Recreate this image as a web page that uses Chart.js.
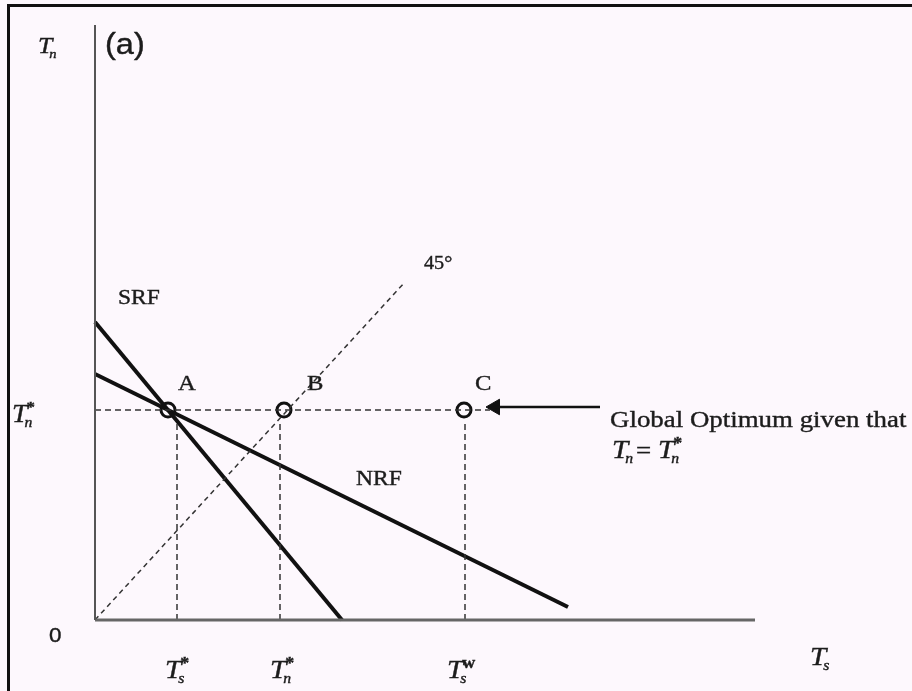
<!DOCTYPE html>
<html>
<head>
<meta charset="utf-8">
<script src="https://cdn.jsdelivr.net/npm/chart.js@4.4.1/dist/chart.umd.min.js"></script>
<style>
  html, body { margin: 0; padding: 0; background: #fdf8fd; }
  #wrap { position: relative; width: 912px; height: 691px; overflow: hidden; }
  #frame { position: absolute; left: 7px; top: 4px; right: -10px; bottom: -10px;
           border-top: 3px solid #111; border-left: 3px solid #111; pointer-events: none; }
</style>
</head>
<body>
<div id="wrap">
  <canvas id="chartContainer" width="912" height="691"></canvas>
  <div id="frame"></div>
</div>
<script>
// unités du schéma : origine au coin des axes
var axeY = [{x: 0, y: 0}, {x: 0, y: 595}];
var axeX = [{x: 0, y: 0}, {x: 660, y: 0}];
var srf = [{x: 0, y: 298}, {x: 247, y: 0}];
var nrf = [{x: 0, y: 246}, {x: 473, y: 13}];
var ligne45 = [{x: 0, y: 0}, {x: 310, y: 338}];
var niveauTn = [{x: 0, y: 210}, {x: 395, y: 210}];
var verticales = [82, 185, 370];
var pointsX = [73, 189, 369];
var pointsNoms = ['A', 'B', 'C'];
var fleche = [{x: 400, y: 213}, {x: 505, y: 213}];

var datasets = [];
function trait(data, width, color, dash) {
    datasets.push({
        data: data, showLine: true, borderColor: color, borderWidth: width,
        borderDash: dash || [], pointRadius: 0, fill: false, clip: false, tension: 0
    });
}
trait(axeY, 2, '#555');
trait(axeX, 3, '#666');
trait(ligne45, 1.5, '#333', [5, 4]);
trait(niveauTn, 1.5, '#333', [6, 4]);
verticales.forEach(function(v) {
    trait([{x: v, y: 0}, {x: v, y: 200}], 1.5, '#333', [6, 4]);
});
trait(srf, 4, '#111');
trait(nrf, 4, '#111');
trait(fleche, 2.5, '#111');
// pointe de la flèche
datasets.push({
    data: [fleche[0]], pointStyle: 'triangle', rotation: -90, pointRadius: 9,
    backgroundColor: '#111', borderColor: '#111', borderWidth: 1, clip: false
});
// cercles A, B, C
datasets.push({
    data: pointsX.map(function(x) { return {x: x, y: 210}; }),
    pointRadius: 7, pointBorderWidth: 3, borderColor: '#111',
    backgroundColor: '#fdf8fd', clip: false
});

// textes du schéma (l'image d'origine est un peu étirée en largeur)
var serif = '"Liberation Serif", "DejaVu Serif", serif';
var sans = '"Liberation Sans", "DejaVu Sans", sans-serif';
var etire = 1.12;

function texte(ctx, str, px, py, font) {
    ctx.save();
    ctx.font = font;
    ctx.translate(px, py);
    ctx.scale(etire, 1);
    ctx.fillText(str, 0, 0);
    ctx.lineWidth = 0.4;
    ctx.strokeText(str, 0, 0);
    var w = ctx.measureText(str).width * etire;
    ctx.restore();
    return w;
}

function drawT(ctx, px, py, sub, sup, size) {
    size = size || 25;
    var w = texte(ctx, 'T', px, py, 'italic ' + size + 'px ' + serif);
    texte(ctx, sub, px + w - 3, py + 5, 'italic ' + Math.round(size * 0.55) + 'px ' + serif);
    if (sup) {
        texte(ctx, sup, px + w - 1, py - 10, 'bold ' + Math.round(size * 0.6) + 'px ' + serif);
    }
}

var textes = {
    id: 'textes',
    afterDatasetsDraw: function(chart) {
        var ctx = chart.ctx;
        var sx = chart.scales.x, sy = chart.scales.y;
        function P(x, y) { return [sx.getPixelForValue(x), sy.getPixelForValue(y)]; }
        ctx.save();
        ctx.fillStyle = '#1c1c1c';
        ctx.strokeStyle = '#1c1c1c';
        ctx.textAlign = 'left';
        ctx.textBaseline = 'alphabetic';
        var p;
        p = P(-57, 567); drawT(ctx, p[0], p[1], 'n', null, 23);
        p = P(10, 566); texte(ctx, '(a)', p[0], p[1], '29px ' + sans);
        p = P(-83, 198); drawT(ctx, p[0], p[1], 'n', '*', 25);
        p = P(-46, -22); texte(ctx, '0', p[0], p[1], '20px ' + sans);
        p = P(23, 316); texte(ctx, 'SRF', p[0], p[1], '21px ' + serif);
        p = P(261, 135); texte(ctx, 'NRF', p[0], p[1], '21px ' + serif);
        var ax = [83, 212, 380];
        pointsNoms.forEach(function(n, i) {
            p = P(ax[i], 230); texte(ctx, n, p[0], p[1], '22px ' + serif);
        });
        p = P(329, 351); texte(ctx, '45°', p[0], p[1], '18px ' + serif);
        p = P(515, 193); texte(ctx, 'Global Optimum given that', p[0], p[1], '24px ' + serif);
        p = P(517, 162); drawT(ctx, p[0], p[1], 'n', null, 26);
        p = P(541, 162); texte(ctx, '=', p[0], p[1], '24px ' + serif);
        p = P(563, 162); drawT(ctx, p[0], p[1], 'n', '*', 26);
        p = P(70, -58); drawT(ctx, p[0], p[1], 's', '*', 26);
        p = P(175, -58); drawT(ctx, p[0], p[1], 'n', '*', 26);
        p = P(352, -58); drawT(ctx, p[0], p[1], 's', 'w', 26);
        p = P(715, -45); drawT(ctx, p[0], p[1], 's', null, 26);
        ctx.restore();
    }
};

var ctx = document.getElementById('chartContainer').getContext('2d');
ctx.chart = new Chart(ctx, {
    type: 'scatter',
    data: { datasets: datasets },
    options: {
        responsive: false,
        animation: false,
        layout: { padding: 0, autoPadding: false },
        plugins: { legend: { display: false }, tooltip: { enabled: false } },
        scales: {
            x: { type: 'linear', display: false, min: -95, max: 817 },
            y: { type: 'linear', display: false, min: -71, max: 620 }
        }
    },
    plugins: [textes]
});
</script>
</body>
</html>
